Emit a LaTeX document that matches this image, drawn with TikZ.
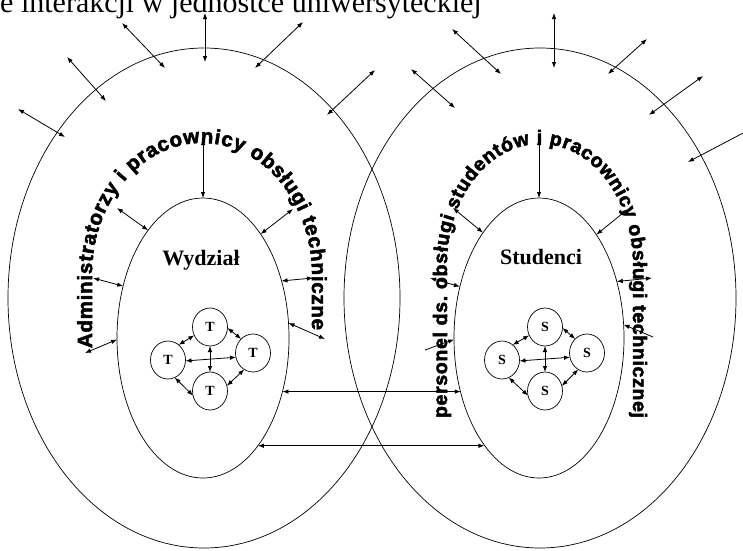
\documentclass[tikz,border=0pt]{standalone}
\usepackage{fontspec}
\setmainfont{Liberation Serif}
\newfontfamily\arcfont{Liberation Sans Bold}[FakeBold=2.5]
\usetikzlibrary{arrows.meta,decorations.text,shapes.geometric}

\tikzset{
  hd/.tip={Latex[length=6pt,width=4.5pt]},
  ring/.style={ellipse, draw, line width=0.7pt, inner sep=0pt, outer sep=0pt},
  member/.style={ellipse, draw, line width=0.7pt, inner sep=0pt, outer sep=0pt,
    minimum width=35pt, minimum height=38pt, font=\bfseries\fontsize{14}{14}\selectfont},
  both/.style={line width=0.8pt, hd-hd},
  one/.style={line width=0.8pt, -hd},
  label/.style={anchor=base, inner sep=0pt, font=\bfseries\fontsize{22}{22}\selectfont},
  arctext/.style={decorate, decoration={text along path, text align=fit to path, text={#1}}},
}

\begin{document}
\begin{tikzpicture}[x=1pt,y=-1pt]
\useasboundingbox (0,0) rectangle (743,550);

% heading
\node[anchor=base west, inner sep=0pt, font=\fontsize{30}{30}\selectfont] (title) at (0,12)
  {e interakcji w jednostce uniwersyteckiej};

% curved captions of the middle rings
\path[arctext={|\arcfont\fontsize{20.5}{20.5}\selectfont|Administratorzy i pracownicy obsługi techniczne}]
  (92,348) -- (92,275) arc[start angle=180, end angle=360, x radius=110, y radius=132] -- (312,330);
\path[arctext={|\arcfont\fontsize{19.5}{19.5}\selectfont|personel ds. obsługi studentów i pracownicy obsługi technicznej}]
  (447,418) -- (447,265) arc[start angle=180, end angle=360, x radius=93, y radius=121] -- (633,418);

% rings
\node[ring, minimum width=392pt, minimum height=500pt] (OL) at (204,298) {};
\node[ring, minimum width=392pt, minimum height=500pt] (OR) at (540,298) {};
\node[ring, minimum width=172pt, minimum height=280pt] (L) at (203,338) {};
\node[ring, minimum width=170pt, minimum height=280pt] (R) at (539,338) {};

\node[label] (wyd) at (201,265) {Wydział};
\node[label] (stu) at (541,264) {Studenci};

% members of the faculty
\node[member] (tt) at (210,327) {T};
\node[member] (tl) at (168,360) {T};
\node[member] (tr) at (253,353) {T};
\node[member] (tb) at (210,391) {T};
% students
\node[member] (st) at (545,327) {S};
\node[member] (sl) at (502,360) {S};
\node[member] (sr) at (587,353) {S};
\node[member] (sb) at (545,391) {S};

\foreach \a/\l/\r/\b in {tt/tl/tr/tb, st/sl/sr/sb}{
  \draw[both] (\l.55) -- (\a.208);
  \draw[both] (\a.-3) -- (\r.130);
  \draw[both] (\l.-3) -- (\r.194);
  \draw[both] (\a.south) -- (\b.north);
  \draw[both] (\l.-69) -- (\b.195);
  \draw[both] (\r.242) -- (\b.17);
}

% outer environment links
\coordinate (e1a) at (122,23);  \coordinate (e1b) at (165,68);
\coordinate (e2a) at (205,13);  \coordinate (e2b) at (205,62);
\coordinate (e3a) at (303,22);  \coordinate (e3b) at (255,68);
\coordinate (e4a) at (67,57);   \coordinate (e4b) at (106,101);
\coordinate (e5a) at (375,70);  \coordinate (e5b) at (327,115);
\coordinate (e6a) at (18,109);  \coordinate (e6b) at (65,137);
\coordinate (e7a) at (452,29);  \coordinate (e7b) at (501,74);
\coordinate (e8a) at (554,13);  \coordinate (e8b) at (554,68);
\coordinate (e9a) at (647,39);  \coordinate (e9b) at (608,74);
\coordinate (e10a) at (411,69); \coordinate (e10b) at (455,108);
\coordinate (e11a) at (703,76); \coordinate (e11b) at (649,115);
\coordinate (e12a) at (745,132); \coordinate (e12b) at (688,162);
\foreach \i in {1,...,11}{ \draw[both] (e\i a) -- (e\i b); }
\draw[one] (e12a) -- (e12b);

% staff ring to the faculty
\coordinate (p14) at (203,139);
\coordinate (p15) at (117,208);
\coordinate (p16) at (293,209);
\coordinate (p17) at (93,278);
\coordinate (p18) at (313,278);
\coordinate (p19) at (325,339);
\coordinate (p20) at (85,353);
\draw[both] (p14) -- (L.north);
\draw[both] (p15) -- (L.117);
\draw[both] (p16) -- (L.61);
\draw[both] (p17) -- (L.147);
\draw[both] (p18) -- (L.36);
\draw[both] (p19) -- (L.10);
\draw[both] (p20) -- (L.181);

% staff ring to the students
\coordinate (q23) at (539,139);
\coordinate (q24) at (453,208);
\coordinate (q25) at (628,209);
\coordinate (q26) at (430,278);
\coordinate (q27) at (652,278);
\coordinate (q28) at (653,337);
\coordinate (q29) at (425,350);
\draw[both] (q23) -- (R.north);
\draw[both] (q24) -- (R.118);
\draw[both] (q25) -- (R.61);
\draw[both] (q26) -- (R.147);
\draw[both] (q27) -- (R.36);
\draw[one] (q28) -- (R.9);
\draw[one] (q29) -- (R.181);

% faculty to students
\draw[both] (L.-34) -- (L.-34 -| R.215);
\draw[both] (L.-63) -- (L.-63 -| R.243);
\end{tikzpicture}
\end{document}
